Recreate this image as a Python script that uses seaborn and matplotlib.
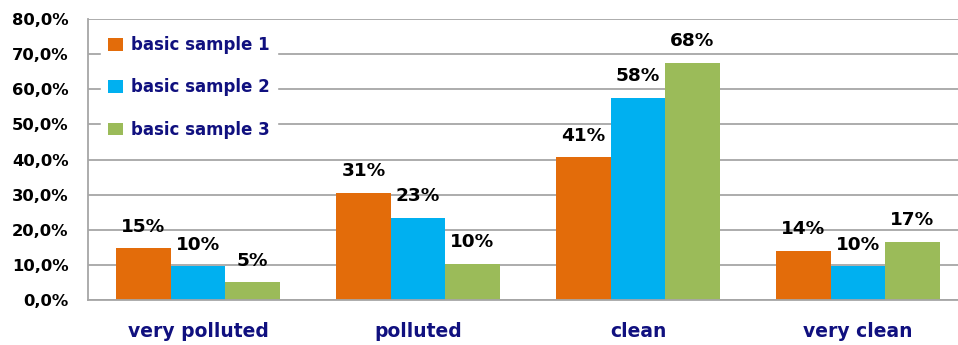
import pandas as pd
import matplotlib.pyplot as plt
import seaborn as sns
from matplotlib.patches import Patch
from matplotlib.ticker import FuncFormatter

# === DONNÉES ===
categories = ["very polluted", "polluted", "clean", "very clean"]
series = ["basic sample 1", "basic sample 2", "basic sample 3"]
sample1 = [14.8, 30.6, 40.7, 14.0]
sample2 = [9.6, 23.4, 57.6, 9.6]
sample3 = [5.1, 10.3, 67.6, 16.6]
colors = ["#E36C0A", "#00B0F0", "#9BBB59"]
navy = "#10107F"
grey = "#A6A6A6"

df = pd.DataFrame({
    "category": categories * 3,
    "series": [s for s in series for _ in categories],
    "value": sample1 + sample2 + sample3,
})

sns.set_style("white")
plt.rcParams['font.family'] = ['DejaVu Sans']

fig = plt.figure(figsize=(9.58, 3.45), dpi=100)
ax = fig.add_axes([88 / 958, 45 / 345, 880 / 958, 281 / 345])

sns.barplot(data=df, x="category", y="value", hue="series", order=categories,
            hue_order=series, palette=colors, width=0.743, gap=0,
            saturation=1, edgecolor="none", linewidth=0, legend=False, ax=ax)

# étiquettes au-dessus des barres
for cont in ax.containers:
    ax.bar_label(cont, labels=[f"{v:.0f}%" for v in cont.datavalues],
                 padding=9, fontsize=13.3, fontweight="bold", color="black")

ax.set_ylim(0, 80)
ax.set_xlim(-0.5, 3.5)
ax.set_yticks(range(0, 81, 10))
ax.yaxis.set_major_formatter(FuncFormatter(lambda v, p: f"{v:.1f}%".replace(".", ",")))
ax.yaxis.grid(True, color=grey, linewidth=1.3)
ax.set_axisbelow(True)
ax.tick_params(axis="y", length=8, color=grey, width=1.3, pad=6,
               labelsize=11.8, labelcolor="black")
for lbl in ax.get_yticklabels():
    lbl.set_fontweight("bold")

ax.set_xticks(range(4))
ax.set_xticklabels(categories, fontweight="bold", fontsize=13.5, color=navy)
ax.tick_params(axis="x", length=0, pad=16)
ax.set_xticks([-0.5, 0.5, 1.5, 2.5, 3.5], minor=True)
ax.tick_params(axis="x", which="minor", length=6, color=grey, width=1.3)

for side in ["top", "right"]:
    ax.spines[side].set_visible(False)
for side in ["left", "bottom"]:
    ax.spines[side].set_color(grey)
    ax.spines[side].set_linewidth(1.3)
ax.set_xlabel("")
ax.set_ylabel("")

handles = [Patch(facecolor=c, edgecolor="none") for c in colors]
leg = ax.legend(handles, series, loc="upper left", bbox_to_anchor=(0.005, 0.995),
                frameon=True, fancybox=False, framealpha=1, edgecolor="white",
                prop={"weight": "bold", "size": 12},
                handlelength=0.9, handleheight=0.75, handletextpad=0.45,
                labelspacing=1.45, borderpad=0.45)
for t in leg.get_texts():
    t.set_color(navy)

plt.savefig("out.png", dpi=100)
plt.close()
